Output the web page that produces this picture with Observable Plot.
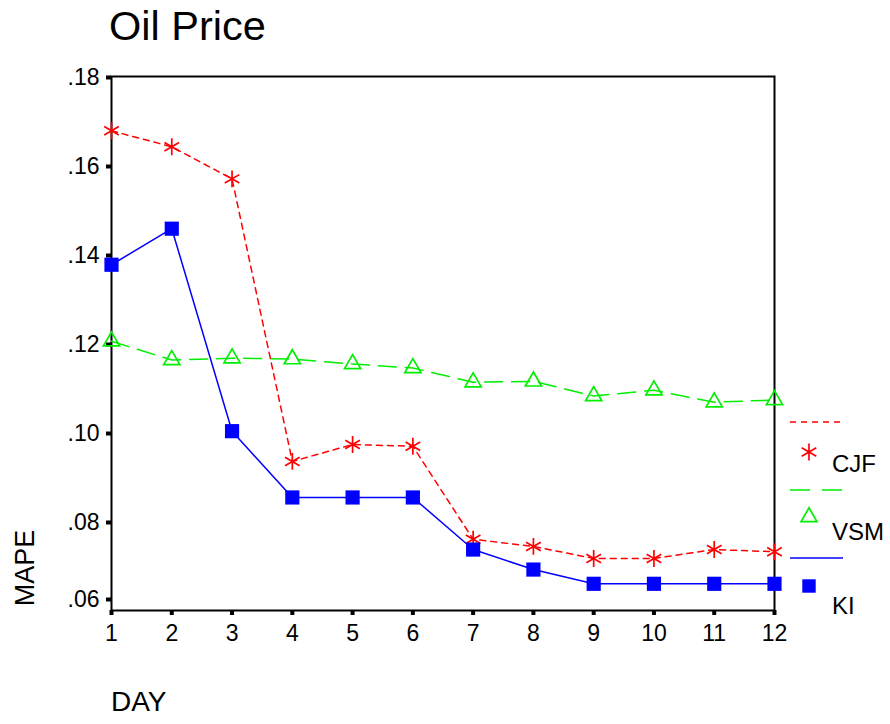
<!DOCTYPE html>
<html>
<head>
<meta charset="utf-8">
<script src="https://cdn.jsdelivr.net/npm/d3@7"></script>
<script src="https://cdn.jsdelivr.net/npm/@observablehq/plot@0.6"></script>
<style>
  body { margin: 0; background: #fff; font-family: "Liberation Sans", Arial, sans-serif; }
  #wrap { position: relative; width: 890px; height: 724px; }
  #title { position: absolute; left: 109px; top: 2px; font-size: 41.5px; color: #000; line-height: normal; }
  #ylab { position: absolute; left: 25px; top: 568px; font-size: 27px; transform: translate(-50%, -50%) rotate(-90deg); white-space: nowrap; line-height: 1; }
  #xlab { position: absolute; left: 111px; top: 686px; font-size: 28px; line-height: normal; }
  #legend { position: absolute; left: 0; top: 0; }
</style>
</head>
<body>
<div id="wrap">
  <div id="chart"></div>
  <div id="title">Oil Price</div>
  <div id="ylab">MAPE</div>
  <div id="xlab">DAY</div>
  <svg id="legend" width="890" height="724"></svg>
</div>
<script>
const days = [1, 2, 3, 4, 5, 6, 7, 8, 9, 10, 11, 12];
const cjf = [0.1678, 0.1642, 0.1570, 0.0935, 0.0973, 0.0969, 0.0760, 0.0744, 0.0717, 0.0717, 0.0737, 0.0732];
const vsm = [0.1205, 0.1163, 0.1167, 0.1165, 0.1154, 0.1145, 0.1113, 0.1115, 0.1082, 0.1095, 0.1068, 0.1073];
const ki  = [0.1377, 0.1458, 0.1003, 0.0854, 0.0854, 0.0854, 0.0737, 0.0692, 0.0660, 0.0660, 0.0660, 0.0660];
const yTicks = [0.08, 0.10, 0.12, 0.14, 0.16, 0.18];
const yTickBottom = [0.06];
const seriesNames = ["CJF", "VSM", "KI"];

const rows = (vals) => days.map((d, i) => ({day: d, value: vals[i]}));
const cjfData = rows(cjf), vsmData = rows(vsm), kiData = rows(ki);

const fmtY = d => d3.format(".2f")(d).replace(/^0/, "");

const chart = Plot.plot({
  width: 890,
  height: 724,
  marginLeft: 111,
  marginRight: 116,
  marginTop: 76,
  marginBottom: 114,
  style: { fontFamily: "Liberation Sans, Arial, sans-serif", background: "white" },
  x: { domain: [1, 12] },
  y: { domain: [0.06, 0.18] },
  marks: [
    Plot.axisX({ ticks: days, tickFormat: d => String(d), tickSize: 5, tickPadding: 9, strokeWidth: 4, fontSize: 23, label: null, color: "black" }),
    Plot.axisY({ ticks: yTicks, tickFormat: fmtY, tickSize: 5, tickPadding: 7, strokeWidth: 4, fontSize: 23, label: null, color: "black", dy: 1 }),
    Plot.axisY({ ticks: yTickBottom, tickFormat: fmtY, tickSize: 5, tickPadding: 7, strokeWidth: 4, fontSize: 23, label: null, color: "black", dy: -11 }),
    Plot.frame({ stroke: "black", strokeWidth: 2 }),
    Plot.line(vsmData, { x: "day", y: "value", stroke: "#00ee00", strokeWidth: 1.5, strokeDasharray: "18,9" }),
    Plot.line(cjfData, { x: "day", y: "value", stroke: "#ff0000", strokeWidth: 1.5, strokeDasharray: "6,5" }),
    Plot.line(kiData, { x: "day", y: "value", stroke: "#0000ff", strokeWidth: 1.5 }),
    Plot.dot(vsmData, { x: "day", y: "value", symbol: "triangle", r: 6, stroke: "#00ee00", fill: "none", strokeWidth: 1.7 }),
    Plot.dot(cjfData, { x: "day", y: "value", symbol: "asterisk", r: 8, stroke: "#ff0000", strokeWidth: 1.7 }),
    Plot.dot(kiData, { x: "day", y: "value", symbol: "square", r: 8, fill: "#0000ff", stroke: "none" })
  ]
});
document.getElementById("chart").appendChild(chart);

// Legend
const leg = d3.select("#legend");
const legItems = [
  { name: seriesNames[0], color: "#ff0000", dash: "6,5", sym: d3.symbolAsterisk, fill: "none", size: 200, lineY: 422, symY: 452, textY: 472 },
  { name: seriesNames[1], color: "#00ee00", dash: "20,12", sym: d3.symbolTriangle, fill: "none", size: 110, lineY: 490, symY: 517, textY: 540 },
  { name: seriesNames[2], color: "#0000ff", dash: null, sym: d3.symbolSquare, fill: "#0000ff", size: 180, lineY: 558, symY: 586, textY: 614 }
];
for (const it of legItems) {
  leg.append("line").attr("x1", 790).attr("x2", 843).attr("y1", it.lineY).attr("y2", it.lineY)
    .attr("stroke", it.color).attr("stroke-width", 1.5).attr("stroke-dasharray", it.dash);
  leg.append("path").attr("d", d3.symbol(it.sym, it.size)())
    .attr("transform", `translate(809,${it.symY})`)
    .attr("fill", it.fill).attr("stroke", it.fill === "none" ? it.color : "none").attr("stroke-width", 1.7);
  leg.append("text").attr("x", 832).attr("y", it.textY).attr("font-size", 24)
    .attr("font-family", "Liberation Sans, Arial, sans-serif").text(it.name);
}
</script>
</body>
</html>
